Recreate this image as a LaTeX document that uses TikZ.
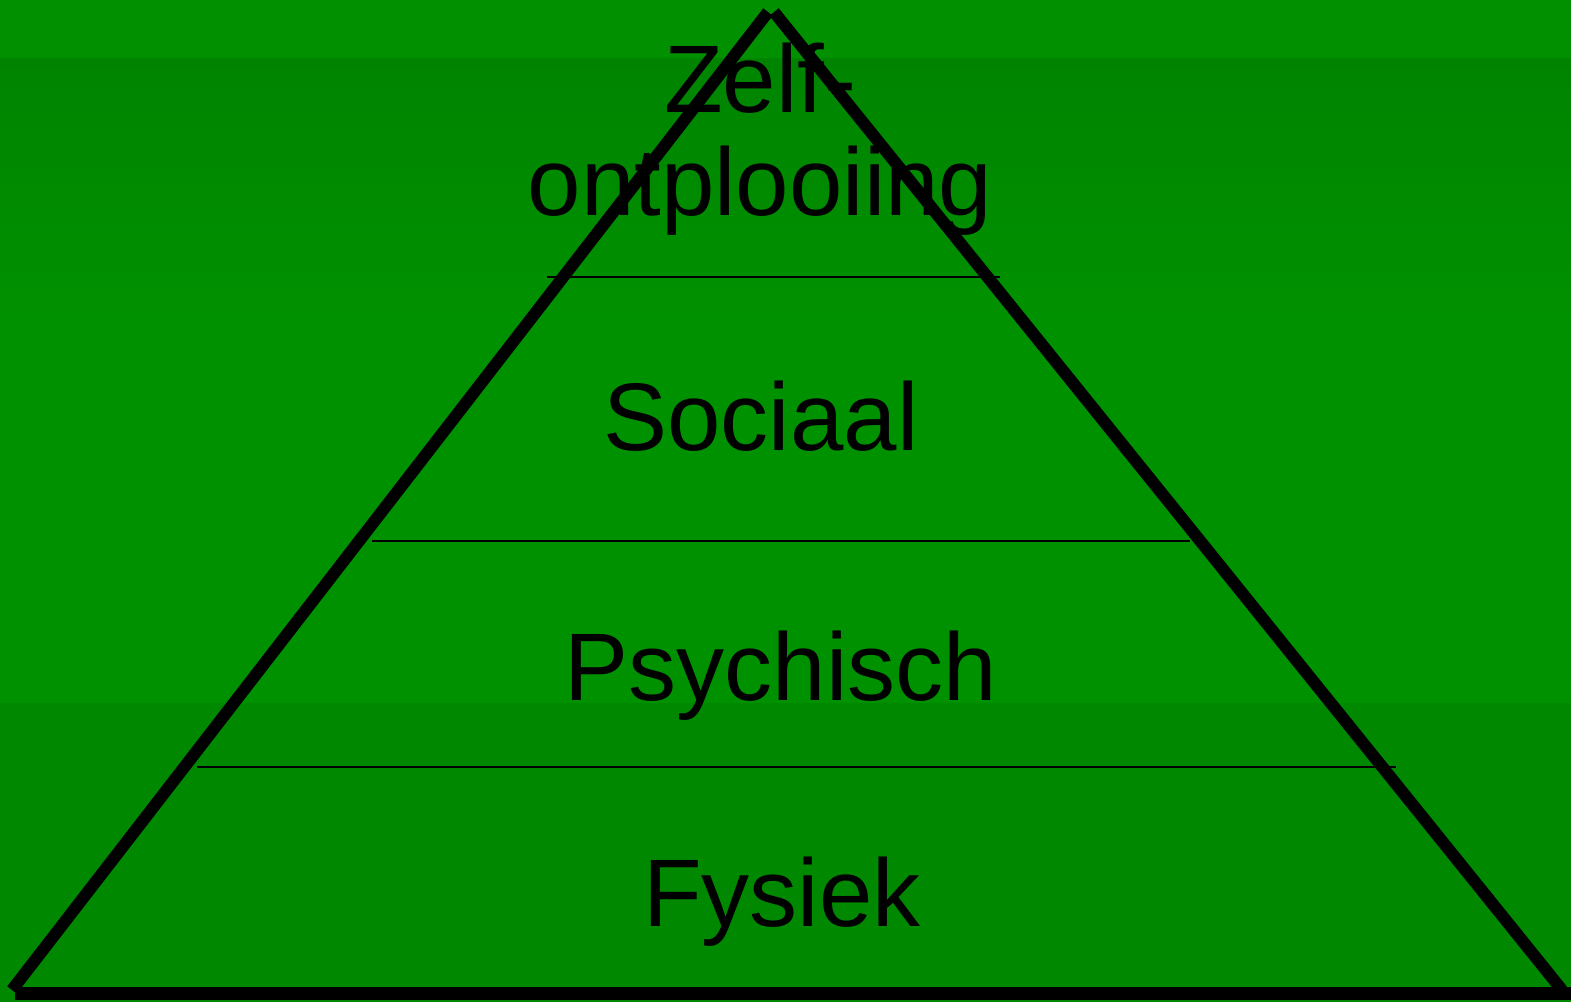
\documentclass[tikz,border=0pt]{standalone}
\usepackage{fontspec}
\setmainfont{Liberation Sans}
\definecolor{bgA}{RGB}{0,144,0}
\definecolor{bgB}{RGB}{0,132,0}
\definecolor{bgC}{RGB}{0,145,0}
\definecolor{bgD}{RGB}{0,136,0}
\begin{document}
\begin{tikzpicture}[x=1pt,y=-1pt,
  side/.style={line width=12pt,line cap=butt},
  tier/.style={line width=2pt},
  lbl/.style={anchor=base,inner sep=0pt,font=\fontsize{96}{103}\selectfont,text=black}]
\useasboundingbox (0,0) rectangle (1571,1002);
% background
\fill[bgA] (0,0) rectangle (1571,58);
\shade[top color=bgB,bottom color=bgC] (0,58) rectangle (1571,320);
\fill[bgC] (0,320) rectangle (1571,703);
\fill[bgD] (0,703) rectangle (1571,1002);
% coordinates
\coordinate (bl) at (12,990);
\coordinate (tl) at (768,12);
\coordinate (tr) at (774,12);
\coordinate (br) at (1562,990);
\coordinate (b0) at (15,993);
\coordinate (b1) at (1571,993);
\coordinate (h1l) at (547,277); \coordinate (h1r) at (1000,277);
\coordinate (h2l) at (372,541); \coordinate (h2r) at (1190,541);
\coordinate (h3l) at (197,767); \coordinate (h3r) at (1396,767);
% labels
\node[lbl] (zelf) at (760,112) {Zelf-};
\node[lbl] (ontpl) at (760,215) {ontplooiing};
\node[lbl] (sociaal) at (761,450) {Sociaal};
\node[lbl] (psych) at (781,700) {Psychisch};
\node[lbl] (fys) at (782,926) {Fysiek};
% tiers
\draw[tier] (h1l) -- (h1r);
\draw[tier] (h2l) -- (h2r);
\draw[tier] (h3l) -- (h3r);
% pyramid sides
\draw[side] (bl) -- (tl);
\draw[side] (tr) -- (br);
\draw[line width=13pt] (b0) -- (b1);
\end{tikzpicture}
\end{document}
